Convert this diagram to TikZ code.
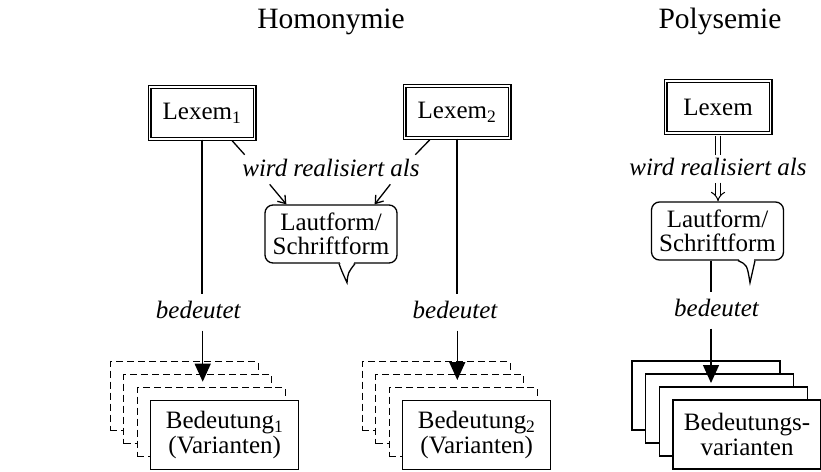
\documentclass[tikz,border=0pt]{standalone}
\usepackage{fontspec}
\setmainfont{Liberation Serif}
\usetikzlibrary{positioning,calc,arrows.meta}
\newcommand\diagfont{\fontsize{25}{24.5}\selectfont}
\tikzset{lexem/.style={draw,double,line width=1.1pt,double distance=1.8pt,
           minimum width=105pt,minimum height=52pt,inner sep=0pt},
         form/.style={draw,rounded corners=8pt,align=center,
           minimum width=132pt,minimum height=58pt,inner sep=0pt},
         rel/.style={font={\diagfont\itshape},anchor=base,inner sep=2pt,text depth=5pt},
         mean/.style={font={\diagfont\itshape},anchor=base,inner xsep=2pt,inner ysep=6pt,text depth=6pt},
         title/.style={font=\fontsize{29.5}{30}\selectfont,anchor=base},
         card/.style={draw,fill=white,minimum width=148pt,minimum height=69pt,
           inner sep=0pt,align=center},
         ghost/.style={card,dash pattern=on 7pt off 4pt},
         twin/.style={double,double distance=4pt,line width=1pt},
         realis/.style={-{Straight Barb[length=7pt,width=10pt]}},
         means/.style={-{Triangle[length=18pt,width=16pt]}},
         }
\begin{document}
\begin{tikzpicture}[x=1pt,y=-1pt,line width=1.3pt,font=\diagfont]
\useasboundingbox (0,0) rectangle (821,471);
% titles
\node[title] (homT) at (331,28) {Homonymie};
\node[title] (polT) at (720,28) {Polysemie};
% lexemes and forms
\node[lexem] (lexemA) at (202,113) {Lexem\textsubscript{1}};
\node[lexem] (lexemB) at (457,112) {Lexem\textsubscript{2}};
\node[lexem] (lexemP) at (718,107) {Lexem};
\node[rel] (wrH) at (331,176.7) {wird realisiert als};
\node[rel] (wrP) at (718,175) {wird realisiert als};
\node[form] (formH) at (331,234) {Lautform/\\Schriftform};
\node[form] (formP) at (717.5,231) {Lautform/\\Schriftform};
% speech tails
\fill[white] ($(formH.south)+(9,-1.5)$) -- ($(formH.south)+(16,19)$) -- ($(formH.south)+(23,-1.5)$) -- cycle;
\draw ($(formH.south)+(8,0)$) .. controls +(3,8) .. ($(formH.south)+(16,19)$)
  .. controls +(1,-10) .. ($(formH.south)+(24,0)$);
\fill[white] ($(formP.south)+(21.5,-1.5)$) -- ($(formP.south)+(32.5,22)$) -- ($(formP.south)+(36.5,-1.5)$) -- cycle;
\draw ($(formP.south)+(20.5,0)$) .. controls +(9,4) .. ($(formP.south)+(32.5,22)$)
  -- ($(formP.south)+(37.5,0)$);
% meanings
\node[mean] (meanA) at (198.3,318) {bedeutet};
\node[mean] (meanB) at (455,318) {bedeutet};
\node[mean] (meanP) at (716.5,316) {bedeutet};
\coordinate (stackA) at (224.7,435);
\coordinate (stackB) at (476.7,435);
\coordinate (stackP) at (747,434.5);
\foreach \i in {3,2,1} {
  \node[ghost] at ($(stackA)+(-13.5*\i,-13*\i)$) {};
  \node[ghost] at ($(stackB)+(-13.5*\i,-13*\i)$) {};
  \node[card] at ($(stackP)+(-13.7*\i,-13*\i)$) {};
}
\node[card] (cardA) at (stackA) {Bedeutung\textsubscript{1}\\(Varianten)};
\node[card] (cardB) at (stackB) {Bedeutung\textsubscript{2}\\(Varianten)};
\node[card] (cardP) at (stackP) {Bedeutungs-\\varianten};
% connectors
\coordinate (tipA) at (202.7,381.7);
\coordinate (tipB) at (457.3,380);
\coordinate (tipP) at (711,383);
\draw (lexemA.south) -- (meanA.north -| lexemA.south);
\draw[means] (meanA.south -| tipA) -- (tipA);
\draw (lexemB.south) -- (meanB.north -| lexemB.south);
\draw[means] (meanB.south -| tipB) -- (tipB);
\draw (formP.south -| tipP) -- (meanP.north -| tipP);
\draw[means] (meanP.south -| tipP) -- (tipP);
\draw ($(lexemA.south)+(30,1)$) -- ($(wrH.north west)+(5,-2)$);
\draw ($(lexemB.south)+(-27,1)$) -- ($(wrH.north east)+(-7,-2)$);
\draw[realis] ($(wrH.south west)+(30,0)$) -- ($(formH.north west)+(22,0)$);
\draw[realis] ($(wrH.south east)+(-32,0)$) -- ($(formH.north east)+(-23,0)$);
\draw[twin] ($(lexemP.south)+(0,2)$) -- (wrP.north -| lexemP.south);
\draw[twin,-Implies] (wrP.south -| lexemP.south) -- (formP.north -| lexemP.south);
\end{tikzpicture}
\end{document}
